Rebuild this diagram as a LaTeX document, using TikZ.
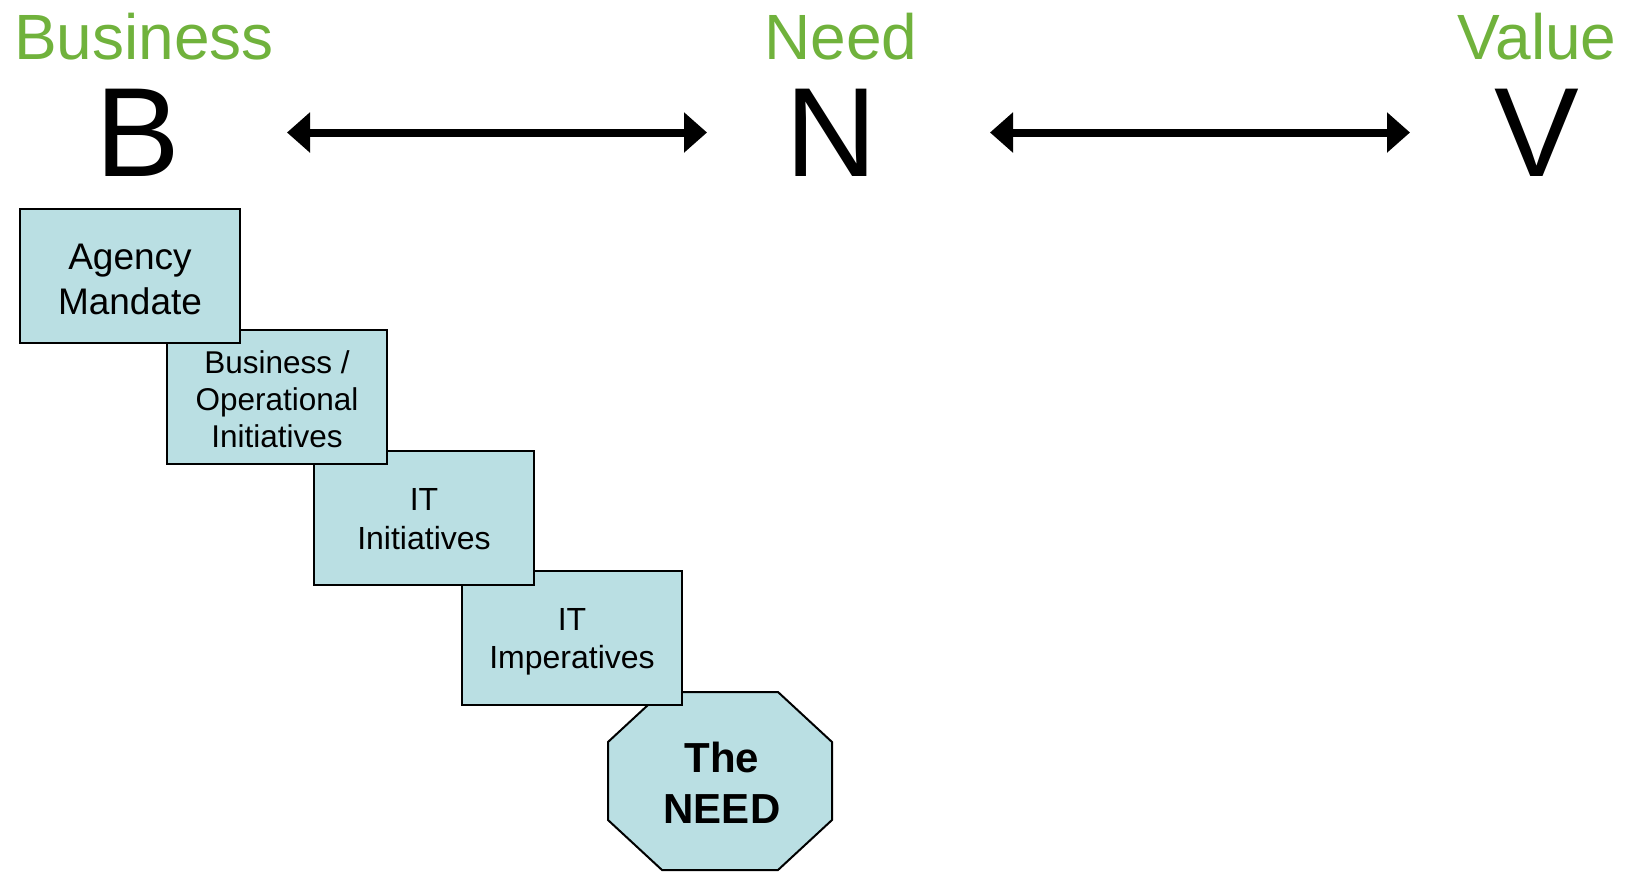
\documentclass[tikz,border=0pt]{standalone}
\usepackage{fontspec}
\setmainfont{Liberation Sans}
\usetikzlibrary{arrows.meta}

\definecolor{headgreen}{RGB}{112,178,60}
\definecolor{stepfill}{RGB}{186,223,227}

\tikzset{
  heading/.style={text=headgreen, font=\fontsize{64}{64}\selectfont, inner sep=0pt, anchor=base},
  letter/.style={font=\fontsize{127}{127}\selectfont, inner sep=0pt},
  dbl/.style={line width=8pt, {Triangle[length=23pt,width=39pt]}-{Triangle[length=23pt,width=39pt]}},
  stepbox/.style={draw=black, line width=2.2pt, fill=stepfill, rectangle,
    minimum width=220pt, minimum height=134pt, inner sep=0pt},
  steptext/.style={align=center, inner sep=0pt},
  octo/.style={draw=black, line width=2pt, fill=stepfill, line join=miter}
}

\begin{document}
\begin{tikzpicture}[x=1pt, y=-1pt]
  \useasboundingbox (0,0) rectangle (1631,871);

  % column headings
  \node[heading] (hbus) at (144,59) {Business};
  \node[heading] (hneed) at (841,59) {Need};
  \node[heading] (hval) at (1537,59) {Value};

  % big letters
  \node[letter] (B) at (138,132.5) {B};
  \node[letter] (N) at (831,132.5) {N};
  \node[letter] (V) at (1537,132.5) {V};

  % two-way arrows between the letters
  \draw[dbl, shorten <=149pt, shorten >=124pt] (B.center) -- (N.center);
  \draw[dbl, shorten <=159pt, shorten >=127pt] (N.center) -- (V.center);

  % octagon at the foot of the staircase (drawn first, lies underneath)
  \draw[octo] (662,692) -- (778,692) -- (832,742) -- (832,820) -- (778,870)
    -- (662,870) -- (608,820) -- (608,742) -- cycle;
  \node[steptext, font=\bfseries\fontsize{42}{51}\selectfont] (need) at (722,783) {The\\NEED};

  % staircase of steps, each drawn over the next one
  \node[stepbox] (s4) at (572,638) {};
  \node[steptext, font=\fontsize{32}{38}\selectfont] (t4) at ([yshift=-4pt]s4.center) {IT\\Imperatives};
  \node[stepbox] (s3) at (424,518) {};
  \node[steptext, font=\fontsize{32}{39}\selectfont] (t3) at ([yshift=-1pt]s3.center) {IT\\Initiatives};
  \node[stepbox] (s2) at (277,397) {};
  \node[steptext, font=\fontsize{31.5}{37}\selectfont] (t2) at ([yshift=-2pt]s2.center) {Business /\\Operational\\Initiatives};
  \node[stepbox] (s1) at (130,276) {};
  \node[steptext, font=\fontsize{37}{45}\selectfont] (t1) at ([yshift=-3pt]s1.center) {Agency\\Mandate};
\end{tikzpicture}
\end{document}
